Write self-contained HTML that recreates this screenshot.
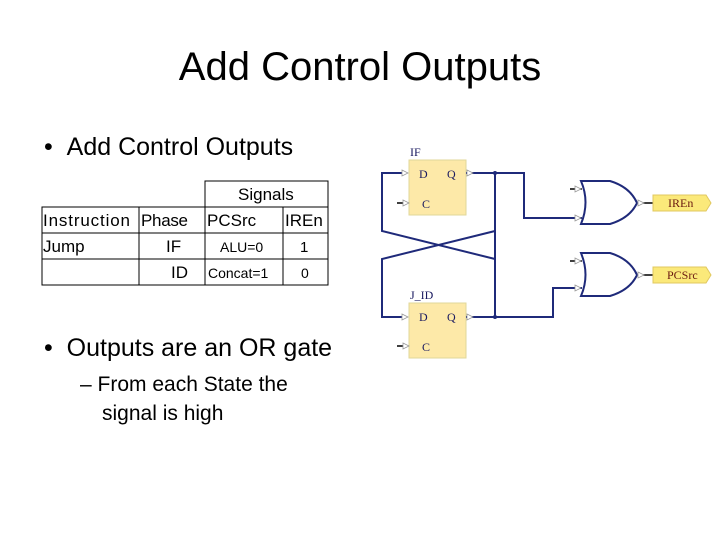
<!DOCTYPE html>
<html><head><style>
body{margin:0;width:720px;height:540px;background:#fff;position:relative;font-family:"Liberation Sans",sans-serif;overflow:hidden}
.t{position:absolute;white-space:nowrap;color:#000}
</style></head><body>
<div class="t" style="left:0;width:720px;text-align:center;top:45px;font-size:40px">Add Control Outputs</div>
<div class="t" style="left:44px;top:133px;font-size:25px">•&nbsp;&nbsp;Add Control Outputs</div>
<div class="t" style="left:44px;top:334px;font-size:25px">•&nbsp;&nbsp;Outputs are an OR gate</div>
<div class="t" style="left:80px;top:373px;font-size:21px">– From each State the</div>
<div class="t" style="left:102px;top:402px;font-size:21px">signal is high</div>
<svg width="720" height="540" style="position:absolute;left:0;top:0" font-family="Liberation Sans, sans-serif">
<g stroke="#000" stroke-width="1" fill="none">
<rect x="205" y="181" width="123" height="26"/>
<rect x="42" y="207" width="286" height="78"/>
<line x1="42" y1="233" x2="328" y2="233"/><line x1="42" y1="259" x2="328" y2="259"/>
<line x1="139" y1="207" x2="139" y2="285"/><line x1="205" y1="207" x2="205" y2="285"/><line x1="283" y1="207" x2="283" y2="285"/>
</g>
<g font-size="17">
<text x="238" y="200">Signals</text>
<text x="43" y="226" textLength="87">Instruction</text><text x="141" y="226" textLength="47">Phase</text><text x="207" y="226">PCSrc</text><text x="285" y="226">IREn</text>
<text x="43" y="252">Jump</text><text x="166" y="252">IF</text><text x="171" y="278">ID</text>
<text x="220" y="252" font-size="14">ALU=0</text><text x="300" y="252" font-size="15">1</text>
<text x="208" y="278" font-size="14">Concat=1</text><text x="301" y="278" font-size="14">0</text>
</g>
<g fill="#fde9a8" stroke="#e0d79a"><rect x="409" y="160" width="57" height="55"/><rect x="409" y="303" width="57" height="55"/></g>
<g font-family="Liberation Serif, serif" font-size="12" fill="#1a1a60">
<text x="410" y="156">IF</text><text x="410" y="299">J_ID</text>
<text x="419" y="178">D</text><text x="447" y="178">Q</text><text x="422" y="208">C</text>
<text x="419" y="321">D</text><text x="447" y="321">Q</text><text x="422" y="351">C</text>
</g>
<g stroke="#1f2a7a" stroke-width="2" fill="none">
<polyline points="466,173 524,173 524,218 582,218"/>
<polyline points="466,317 553,317 553,288 582,288"/>
<line x1="495" y1="173" x2="495" y2="317"/>
<polyline points="402,173 382,173 382,231 495,259"/>
<polyline points="402,317 382,317 382,259 495,231"/>
<path d="M581,181 Q590,202 581,224 L610,224 Q630,218 637,203 Q630,187 610,181 Z"/>
<path d="M581,253 Q590,275 581,296 L610,296 Q630,290 637,275 Q630,259 610,253 Z"/>
</g>
<g stroke="#000" stroke-width="1.5"><line x1="397" y1="203" x2="405" y2="203"/><line x1="397" y1="346" x2="405" y2="346"/>
<line x1="570" y1="189" x2="582" y2="189"/><line x1="570" y1="261" x2="582" y2="261"/>
<line x1="640" y1="203" x2="653" y2="203"/><line x1="640" y1="275" x2="653" y2="275"/></g>
<g fill="#fff" stroke="#999" stroke-width="0.8">
<path d="M402,170 l6,3 l-6,3z"/><path d="M402,314 l6,3 l-6,3z"/><path d="M403,200 l6,3 l-6,3z"/><path d="M403,343 l6,3 l-6,3z"/>
<path d="M467,170 l6,3 l-6,3z"/><path d="M467,314 l6,3 l-6,3z"/>
<path d="M575,186 l6,3 l-6,3z"/><path d="M575,215 l6,3 l-6,3z"/><path d="M575,258 l6,3 l-6,3z"/><path d="M575,285 l6,3 l-6,3z"/>
<path d="M638,200 l6,3 l-6,3z"/><path d="M638,272 l6,3 l-6,3z"/>
</g>
<g fill="#fbe97a" stroke="#e0c860"><path d="M653,195 h53 l5,8 l-5,8 h-53z"/><path d="M653,267 h53 l5,8 l-5,8 h-53z"/></g>
<g font-family="Liberation Serif, serif" font-size="12" fill="#6b1a10"><text x="668" y="207">IREn</text><text x="667" y="279">PCSrc</text></g>
<circle cx="495" cy="173" r="2" fill="#1f2a7a"/><circle cx="495" cy="317" r="2" fill="#1f2a7a"/>
</svg>
</body></html>
